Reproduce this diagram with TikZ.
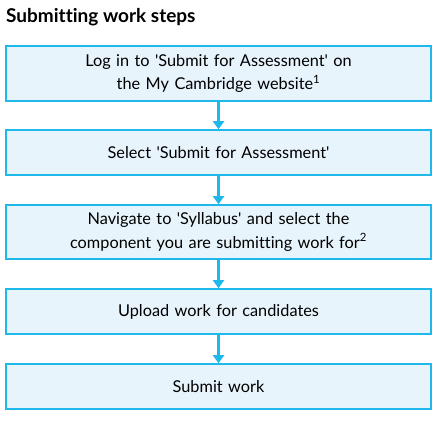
\documentclass[tikz,border=0pt]{standalone}
\usepackage{fontspec}
\setmainfont{Lato}[Ligatures=NoCommon]
\usetikzlibrary{positioning,arrows.meta}

\definecolor{stepline}{HTML}{1EB8EA}
\definecolor{stepfill}{HTML}{E8F4FC}

\begin{document}
\begin{tikzpicture}[
    stepbox/.style={draw=stepline, line width=1.6pt, fill=stepfill, rectangle,
        minimum width=425pt, text width=410pt, align=center, font=\fontsize{16.3}{23.5}\selectfont},
    flow/.style={draw=stepline, line width=2.6pt, -{Triangle[length=8pt,width=11pt]}}
]
    \useasboundingbox (0,0) rectangle (438pt,-422pt);

    % Title
    \node[anchor=base west, inner sep=0pt, font=\fontsize{19}{22}\selectfont\bfseries] (title) at (6pt,-23pt) {Submitting work steps};

    % Steps
    \node[stepbox, minimum height=55pt] (login) at (218.5pt,-73.5pt)
        {Log in to \textquotesingle Submit for Assessment\textquotesingle\ on\\ the My Cambridge website\textsuperscript{1}};
    \node[stepbox, minimum height=45pt] (select) at (218.5pt,-152.5pt)
        {Select \textquotesingle Submit for Assessment\textquotesingle};
    \node[stepbox, minimum height=54pt] (navigate) at (218.5pt,-232pt)
        {Navigate to \textquotesingle Syllabus\textquotesingle\ and select the\\ component you are submitting work for\textsuperscript{2}};
    \node[stepbox, minimum height=45pt] (upload) at (218.5pt,-311.5pt)
        {Upload work for candidates};
    \node[stepbox, minimum height=45pt] (submit) at (218.5pt,-386.5pt)
        {Submit work};

    % Arrows between steps
    \draw[flow] (login.south) -- (select.north);
    \draw[flow] (select.south) -- (navigate.north);
    \draw[flow] (navigate.south) -- (upload.north);
    \draw[flow] (upload.south) -- (submit.north);
\end{tikzpicture}
\end{document}
